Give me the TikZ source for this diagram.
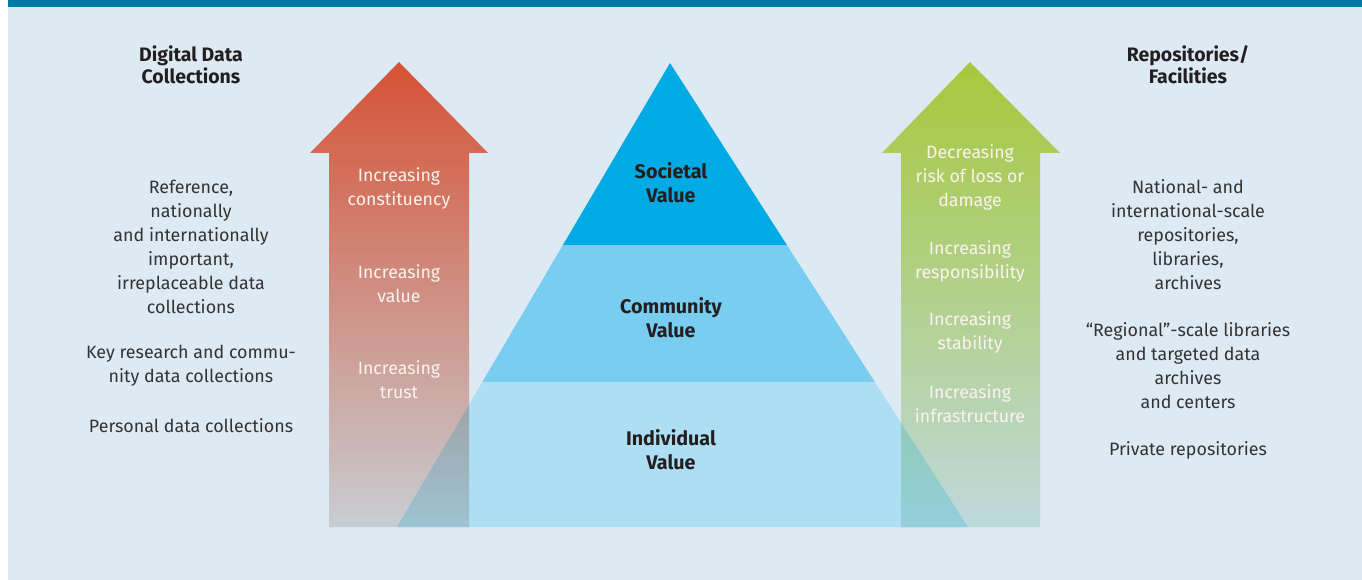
\documentclass[tikz,border=0pt]{standalone}
\usepackage{fontspec}
\setmainfont{Fira Sans}
\usetikzlibrary{calc}
\definecolor{bgblue}{HTML}{DDEAF3}
\definecolor{barblue}{HTML}{0079A6}
\definecolor{socblue}{HTML}{00AAE4}
\definecolor{comblue}{HTML}{78CDF0}
\definecolor{indblue}{HTML}{ADDEF4}
\definecolor{txtgray}{HTML}{333333}
\definecolor{lbldark}{HTML}{231F20}
\definecolor{arrtxt}{HTML}{FBF3EF}
\definecolor{redtop}{RGB}{214,82,53}
\definecolor{redmid}{RGB}{212,138,110}
\definecolor{redbot}{RGB}{200,205,210}
\definecolor{redtopm}{RGB}{168,78,53}
\definecolor{redmidm}{RGB}{166,131,110}
\definecolor{redbotm}{RGB}{157,195,210}
\definecolor{grntop}{RGB}{167,200,59}
\definecolor{grnmid}{RGB}{179,208,140}
\definecolor{grnbot}{RGB}{190,217,220}
\definecolor{grntopm}{RGB}{131,190,59}
\definecolor{grnmidm}{RGB}{140,197,140}
\definecolor{grnbotm}{RGB}{149,206,220}
\begin{document}
\begin{tikzpicture}[x=0.75pt,y=-0.75pt,
  body/.style={align=center,inner sep=0pt,text=txtgray,font=\fontsize{13.4}{18}\selectfont},
  head/.style={align=center,inner sep=0pt,text=lbldark,font=\fontsize{14.6}{16.5}\selectfont\bfseries},
  arrlabel/.style={align=center,inner sep=0pt,text=arrtxt,font=\fontsize{13.3}{18}\selectfont},
  pyrlabel/.style={align=center,inner sep=0pt,text=lbldark,font=\fontsize{14.8}{18}\selectfont\bfseries}]
\useasboundingbox (0,0) rectangle (1362,580);
\fill[white] (0,0) rectangle (1362,580);
\fill[bgblue] (8,7) rectangle (1362,580);
\fill[barblue] (8,0) rectangle (1362,7);
% coordinates
\coordinate (apex) at (670,63);
\coordinate (bl) at (397,527);
\coordinate (br) at (968,527);
\coordinate (s1l) at ($(apex)!0.3922!(bl)$);
\coordinate (s1r) at ($(apex)!0.3922!(br)$);
\coordinate (s2l) at ($(apex)!0.6875!(bl)$);
\coordinate (s2r) at ($(apex)!0.6875!(br)$);
% arrows
\def\leftarrowpath{(329,527) -- (329,153) -- (310,153) -- (399,62) -- (488,153) -- (469,153) -- (469,527) -- cycle}
\def\rightarrowpath{(901,527) -- (901,153) -- (882,153) -- (970,62) -- (1060,153) -- (1040,153) -- (1040,527) -- cycle}
\shade[top color=redtop,middle color=redmid,bottom color=redbot] \leftarrowpath;
\shade[top color=grntop,middle color=grnmid,bottom color=grnbot] \rightarrowpath;
% pyramid
\fill[indblue] (s2l) -- (s2r) -- (br) -- (bl) -- cycle;
\fill[comblue] (s1l) -- (s1r) -- (s2r) -- (s2l) -- cycle;
\fill[socblue] (apex) -- (s1r) -- (s1l) -- cycle;
% overlaps (multiply look)
\begin{scope}
  \clip (apex) -- (br) -- (bl) -- cycle;
  \shade[top color=redtopm,middle color=redmidm,bottom color=redbotm] \leftarrowpath;
  \shade[top color=grntopm,middle color=grnmidm,bottom color=grnbotm] \rightarrowpath;
\end{scope}
% pyramid labels
\node[pyrlabel] (soc) at (671,182.5) {Societal\\Value};
\node[pyrlabel] (com) at (671,318) {Community\\Value};
\node[pyrlabel] (ind) at (671,450) {Individual\\Value};
% left arrow labels
\node[arrlabel] (la1) at (399,188) {Increasing\\constituency};
\node[arrlabel] (la2) at (399,284) {Increasing\\value};
\node[arrlabel] (la3) at (399,380) {Increasing\\trust};
% right arrow labels
\node[arrlabel] (ra1) at (970,177) {Decreasing\\risk of loss or\\damage};
\node[arrlabel] (ra2) at (970,261) {Increasing\\responsibility};
\node[arrlabel] (ra3) at (970,332.5) {Increasing\\stability};
\node[arrlabel] (ra4) at (970,404) {Increasing\\infrastructure};
% headings
\node[head] (lh) at (191,65) {Digital Data\\Collections};
\node[head] (rh) at (1188,65) {Repositories/\\Facilities};
% left column
\node[body] (l1) at (191,246.5) {Reference,\\nationally\\and internationally\\important,\\irreplaceable data\\collections};
\node[body] (l2) at (191,366) {Key research and commu-\\nity data collections};
\node[body] (l3) at (191,426) {Personal data collections};
% right column
\node[body] (r1) at (1188,234.5) {National- and\\international-scale\\repositories,\\libraries,\\archives};
\node[body] (r2) at (1188,366) {“Regional”-scale libraries\\and targeted data\\archives\\and centers};
\node[body] (r3) at (1188,450) {Private repositories};
\end{tikzpicture}
\end{document}
